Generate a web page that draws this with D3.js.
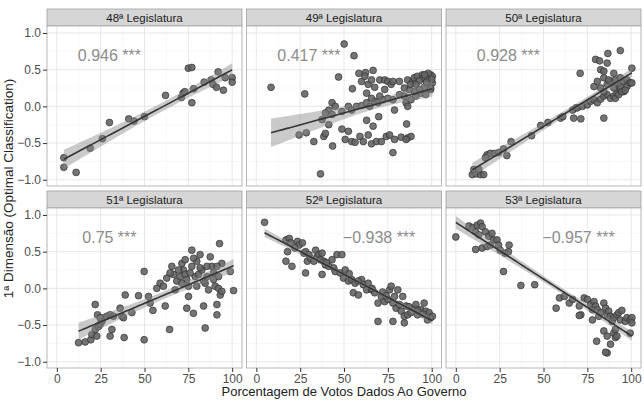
<!DOCTYPE html>
<html>
<head>
<meta charset="utf-8">
<script src="https://cdn.jsdelivr.net/npm/d3@7"></script>
<style>
  body { margin: 0; background: #fff; }
  svg { display: block; font-family: "Liberation Sans", Arial, sans-serif; }
</style>
</head>
<body>
<svg id="chart" width="644" height="400"></svg>
<script>
// facetas e coeficientes de correlação
const legislaturas = ["48ª Legislatura", "49ª Legislatura", "50ª Legislatura",
                      "51ª Legislatura", "52ª Legislatura", "53ª Legislatura"];
const correlacoes = [0.946, 0.417, 0.928, 0.75, -0.938, -0.957];

// [porcentagem de votos com o governo, 1ª dimensão]
const leg48 = [[4,-0.70],[4,-0.83],[11,-0.90],[19,-0.57],[26,-0.44],[30,-0.22],[41,-0.17],[44,-0.20],
  [50,-0.14],[62,0.15],[71,0.12],[72,0.18],[73,0.20],[75,0.52],[77,0.53],[78,0.24],[77,0.05],[84,0.33],
  [88,0.36],[89,0.30],[91,0.26],[92,0.47],[95,0.22],[96,0.39],[100,0.39],[100,0.33]];

const leg49 = [[8.4,0.26],[27.6,0.17],[50.1,0.85],[55.7,0.69],[46.9,0.40],[54.8,0.24],[58.5,0.45],[62.3,0.46],
  [66.6,0.49],[36.6,-0.92],[77.9,-0.63],[43.5,-0.54],[32.8,-0.48],[24.4,-0.39],[28.5,-0.36],[38.5,-0.41],
  [39.4,-0.37],[48.8,-0.31],[52.5,-0.34],[62.9,-0.19],[66.6,-0.27],[69.8,-0.14],[85.7,-0.24],[86.3,-0.43],
  [88.2,-0.41],[41.3,-0.25],
  [50.7,-0.45],[54.4,-0.48],[56.3,-0.49],[59.1,-0.41],[61.0,-0.48],[63.8,-0.39],[65.7,-0.51],[68.5,-0.48],
  [71.3,-0.48],[74.1,-0.41],[76.0,-0.39],[78.8,-0.45],[82.6,-0.42],[85.4,-0.45],
  [43.2,0.05],[45.0,0.00],[41.3,-0.05],[39.4,-0.09],[37.5,-0.18],[43.2,-0.11],[48.8,-0.07],[52.5,0.00],
  [54.4,-0.05],[57.2,0.00],[60.0,0.01],[62.9,0.05],[64.7,0.00],[67.5,0.07],[69.4,0.05],[72.2,0.09],
  [75.0,0.11],[77.9,0.09],[78.8,-0.05],[81.6,0.16],[84.4,0.14],[85.4,0.05],[86.3,0.00],[88.2,0.09],
  [91.0,0.14],[93.8,0.18],[96.6,0.16],[99.4,0.23],
  [60.0,0.34],[61.9,0.41],[63.8,0.30],[65.7,0.36],[67.5,0.26],[70.4,0.36],[73.2,0.36],[75.0,0.34],
  [76.9,0.30],[77.9,0.34],[81.6,0.34],[86.3,0.36],[89.1,0.34],[90.1,0.39],[91.9,0.41],[94.7,0.43],
  [97.6,0.39],[99.4,0.43],[100.4,0.41],[100.4,0.32],[99.4,0.25],[95.7,0.26],[92.9,0.23],[90.1,0.20],
  [87.2,0.23],[84.4,0.25],[70.4,0.14],[73.2,0.23],[62.9,0.18],[65.7,0.11],
  [95.0,0.38],[97.0,0.33],[98.0,0.45],[93.0,0.35],[88.0,0.30],[96.0,0.43],[100.0,0.37],[91.0,0.30]];

const leg50 = [[9.4,-0.93],[11.6,-0.92],[14.1,-0.93],[15.9,-0.93],[10.3,-0.86],[13.1,-0.86],
  [17.8,-0.66],[19.7,-0.64],[22.1,-0.64],[16.9,-0.70],[24.4,-0.63],[27.2,-0.58],[29.1,-0.67],[31.5,-0.48],
  [43.2,-0.40],[48.4,-0.26],[52.5,-0.22],[59.7,-0.16],[61.0,-0.14],[67.2,-0.16],[71.3,-0.17],[84.4,-0.16],
  [66.6,-0.05],[68.5,-0.02],
  [69.4,-0.02],[72.2,0.00],[75.0,0.02],[76.9,0.07],[78.8,0.09],[80.7,0.05],[82.6,0.10],[84.4,0.14],
  [86.3,0.16],[88.2,0.11],[90.1,0.14],[91.9,0.18],[93.8,0.23],[95.7,0.20],[97.6,0.27],[99.4,0.32],
  [70.9,0.45],[79.7,0.64],[82.0,0.62],[86.7,0.72],[93.8,0.76],[82.6,0.50],[84.4,0.48],[90.1,0.45],
  [86.3,0.59],[100.4,0.52],
  [78.8,0.27],[80.7,0.34],[82.6,0.25],[84.4,0.20],[86.3,0.30],[88.2,0.34],[90.1,0.25],[91.9,0.32],
  [93.8,0.27],[95.7,0.34],[97.6,0.36],[99.4,0.32],[100.4,0.32],
  [91.0,0.11],[92.9,0.16],[94.7,0.20],[96.6,0.22],
  [84.4,0.39],[87.2,0.36],[91.0,0.36],[93.8,0.39]];

const leg51 = [[12.4,-0.74],[16.2,-0.73],[19.4,-0.70],[20.0,-0.63],[21.9,-0.56],[22.8,-0.65],[23.8,-0.52],
  [24.7,-0.49],[25.7,-0.45],[26.6,-0.40],[21.9,-0.22],[23.2,-0.36],[24.7,-0.40],[28.5,-0.38],[30.4,-0.36],
  [31.4,-0.56],[30.4,-0.65],[32.3,-0.38],[36.1,-0.27],[37.1,-0.38],[38.0,-0.40],[39.0,-0.09],[38.4,-0.67],
  [42.8,-0.33],[46.6,-0.10],[49.8,0.23],[49.8,-0.70],[52.3,-0.11],[53.2,-0.20],[54.8,-0.30],[58.9,0.07],
  [61.8,-0.24],[62.7,0.14],[64.3,-0.56],[65.6,0.30],[66.5,0.19],[67.5,-0.02],[68.4,0.10],[70.3,0.16],
  [71.3,0.34],[72.2,0.25],[73.2,0.19],[74.1,0.12],[75.1,0.03],[74.1,-0.27],[75.1,-0.11],[77.0,0.30],
  [77.0,0.52],[77.9,-0.34],[78.9,0.16],[79.8,0.37],[80.8,0.19],[81.7,0.46],[82.7,0.25],[83.7,0.10],
  [83.7,-0.24],[84.6,-0.54],[85.6,0.16],[86.5,-0.02],[87.5,0.43],[88.4,0.30],[89.4,0.21],[90.3,0.03],
  [91.3,-0.22],[91.3,-0.36],[92.2,0.00],[92.2,0.16],[92.8,0.61],[94.1,0.34],[93.2,-0.09],[94.1,-0.04],
  [98.9,0.23],[100.8,-0.03],
  [64.6,0.21],[69.4,0.25],[71.3,0.07],[76.0,0.21],[79.8,0.03],[81.7,0.28],[84.6,0.07],[85.6,0.30],
  [89.4,0.12],[91.3,0.30],[57.0,0.00],[60.8,0.03],[73.2,0.39],[78.0,0.41]];

const leg52 = [[4.7,0.90],[16.9,0.66],[18.8,0.68],[19.7,0.62],[17.8,0.50],[16.9,0.37],[20.3,0.30],[23.5,0.64],
  [24.4,0.59],[26.3,0.62],[27.2,0.48],[28.1,0.50],[30.0,0.46],[29.1,0.37],[28.1,0.21],[31.0,0.41],
  [32.8,0.37],[33.8,0.52],[34.7,0.43],[35.6,0.46],[36.6,0.39],[37.5,0.48],[37.5,0.19],[38.5,0.37],
  [39.4,0.32],[41.3,0.30],[43.2,0.39],[44.1,0.28],[45.0,0.23],[46.0,0.46],[47.8,0.21],[48.8,0.46],
  [49.7,0.14],[50.7,0.25],[52.5,0.10],[54.4,0.12],[55.3,-0.06],[56.3,0.07],[58.2,-0.09],[60.0,0.12],
  [61.0,0.05],[62.9,-0.02],[63.8,0.07],[65.7,-0.02],[67.5,-0.06],[69.4,-0.45],[69.4,-0.20],[71.3,-0.11],
  [73.2,-0.18],[75.0,-0.15],[76.0,-0.02],[76.9,0.03],[77.9,-0.20],[78.8,-0.11],[77.9,-0.45],[79.7,-0.27],
  [80.7,-0.02],[81.6,-0.22],[82.6,-0.31],[83.5,-0.11],[84.4,-0.47],[84.4,-0.38],[85.4,-0.24],[86.3,-0.36],
  [88.2,-0.33],[90.1,-0.27],[91.0,-0.22],[91.9,-0.36],[93.8,-0.29],[95.7,-0.20],[96.6,-0.31],[97.6,-0.43],
  [98.5,-0.33],[99.4,-0.40],[100.4,-0.38],
  [22.0,0.55],[40.0,0.35],[53.0,0.20],[58.0,0.10],[66.0,0.00],[72.0,-0.05],[74.0,-0.10],[87.0,-0.25],
  [92.0,-0.30],[95.0,-0.35]];

const leg53 = [[0,0.70],[7.5,0.85],[9.8,0.83],[12.2,0.86],[14.1,0.89],[15.0,0.84],[11.3,0.77],[13.1,0.73],
  [16.9,0.77],[18.8,0.71],[20.6,0.75],[21.6,0.66],[11.3,0.53],[15.0,0.55],[17.8,0.57],[19.7,0.59],
  [23.5,0.66],[24.4,0.59],[25.3,0.52],[28.1,0.48],[30.0,0.50],[30.4,0.59],[27.2,0.23],[37.1,0.04],
  [45.0,0.05],[57.2,-0.27],[59.1,-0.13],[61.9,-0.11],[64.7,-0.20],[66.6,-0.15],[70.4,-0.24],[71.3,-0.36],
  [70.4,-0.37],[73.2,-0.13],[75.0,-0.15],[76.9,-0.22],[77.9,-0.29],[78.8,-0.18],[79.7,-0.24],[80.7,-0.29],
  [77.9,-0.43],[81.6,-0.38],[82.6,-0.33],[84.4,-0.20],[85.4,-0.27],[86.3,-0.36],[87.2,-0.31],[88.2,-0.38],
  [89.1,-0.45],[90.1,-0.40],[91.9,-0.36],[92.9,-0.33],[93.8,-0.43],[94.7,-0.30],[96.6,-0.45],[97.6,-0.40],
  [99.4,-0.43],[100.4,-0.40],[100.4,-0.47],[99.4,-0.61],[84.4,-0.58],[86.3,-0.65],[88.2,-0.76],[90.1,-0.61],
  [91.0,-0.67],[91.9,-0.65],[91.0,-0.56],[80.3,-0.72],[86.3,-0.88],[85.4,-0.87]];

const dados = [leg48, leg49, leg50, leg51, leg52, leg53];
const xTicks = [0, 25, 50, 75, 100];
const yTicks = [-1, -0.5, 0, 0.5, 1];

const svg = d3.select("#chart");

const panelW = 195, panelH = 160, stripH = 17;
const colX = [47, 246.5, 446];
const rowY = [26, 208];

const x = d3.scaleLinear().domain([-5.6, 105.6]).range([0, panelW]);
const y = d3.scaleLinear().domain([-1.085, 1.095]).range([panelH, 0]);

const fmtY = v => d3.format(".1f")(v).replace("-", "\u2212");

// ajuste linear com intervalo de confiança de 95%
function ajuste(pts) {
  const n = pts.length;
  const mx = d3.mean(pts, d => d[0]), my = d3.mean(pts, d => d[1]);
  let sxx = 0, sxy = 0;
  pts.forEach(d => { sxx += (d[0] - mx) ** 2; sxy += (d[0] - mx) * (d[1] - my); });
  const b = sxy / sxx, a = my - b * mx;
  let sse = 0;
  pts.forEach(d => { sse += (d[1] - a - b * d[0]) ** 2; });
  const s = Math.sqrt(sse / (n - 2));
  const t = 1.96 + 2.4 / (n - 2);
  const [x0, x1] = d3.extent(pts, d => d[0]);
  return d3.range(0, 61).map(i => {
    const xv = x0 + (x1 - x0) * i / 60;
    const fit = a + b * xv;
    const se = s * Math.sqrt(1 / n + (xv - mx) ** 2 / sxx);
    return { x: xv, fit: fit, lo: fit - t * se, hi: fit + t * se };
  });
}

dados.forEach((pts, i) => {
  const col = i % 3, row = Math.floor(i / 3);
  const g = svg.append("g").attr("transform", `translate(${colX[col]},${rowY[row]})`);

  // faixa do título
  g.append("rect")
    .attr("x", 0).attr("y", -stripH).attr("width", panelW).attr("height", stripH)
    .attr("fill", "#d6d6d6").attr("stroke", "#a0a0a0").attr("stroke-width", 0.8);
  g.append("text")
    .attr("x", panelW / 2).attr("y", -stripH / 2 + 4)
    .attr("text-anchor", "middle")
    .attr("font-size", 11.5).attr("fill", "#1a1a1a")
    .text(legislaturas[i]);

  // fundo e grade
  g.append("rect").attr("width", panelW).attr("height", panelH).attr("fill", "#fff");
  const minorX = [12.5, 37.5, 62.5, 87.5], minorY = [-0.75, -0.25, 0.25, 0.75];
  g.selectAll(".mx").data(minorX).join("line")
    .attr("x1", d => x(d)).attr("x2", d => x(d)).attr("y1", 0).attr("y2", panelH)
    .attr("stroke", "#f3f3f3").attr("stroke-width", 0.6);
  g.selectAll(".my").data(minorY).join("line")
    .attr("y1", d => y(d)).attr("y2", d => y(d)).attr("x1", 0).attr("x2", panelW)
    .attr("stroke", "#f3f3f3").attr("stroke-width", 0.6);
  g.selectAll(".gx").data(xTicks).join("line")
    .attr("x1", d => x(d)).attr("x2", d => x(d)).attr("y1", 0).attr("y2", panelH)
    .attr("stroke", "#e4e4e4").attr("stroke-width", 0.9);
  g.selectAll(".gy").data(yTicks).join("line")
    .attr("y1", d => y(d)).attr("y2", d => y(d)).attr("x1", 0).attr("x2", panelW)
    .attr("stroke", "#e4e4e4").attr("stroke-width", 0.9);

  // pontos
  g.append("g").selectAll("circle").data(pts).join("circle")
    .attr("cx", d => x(d[0])).attr("cy", d => y(d[1])).attr("r", 3.4)
    .attr("fill", "#656565").attr("fill-opacity", 0.9)
    .attr("stroke", "#303030").attr("stroke-width", 0.7);

  // reta de regressão
  const fit = ajuste(pts);
  g.append("path").datum(fit)
    .attr("d", d3.area().x(d => x(d.x)).y0(d => y(d.lo)).y1(d => y(d.hi)))
    .attr("fill", "#8a8a8a").attr("fill-opacity", 0.45);
  g.append("path").datum(fit)
    .attr("d", d3.line().x(d => x(d.x)).y(d => y(d.fit)))
    .attr("fill", "none").attr("stroke", "#353535").attr("stroke-width", 1.6);

  // correlação
  const r = correlacoes[i];
  g.append("text")
    .attr("x", x(r > 0 ? 30 : 70)).attr("y", y(0.7) + 5.7)
    .attr("text-anchor", "middle").attr("font-size", 16).attr("fill", "#8c8c8c")
    .text(String(r).replace("-", "\u2212") + " ***");

  // borda
  g.append("rect").attr("width", panelW).attr("height", panelH)
    .attr("fill", "none").attr("stroke", "#a6a6a6").attr("stroke-width", 0.8);

  // eixos
  if (col === 0) {
    const ay = g.append("g").call(d3.axisLeft(y).tickValues(yTicks).tickSize(4).tickPadding(2).tickFormat(fmtY));
    ay.select(".domain").remove();
    ay.selectAll("line").attr("stroke", "#333");
    ay.selectAll("text").attr("fill", "#4d4d4d").attr("font-size", 12)
      .attr("font-family", "Liberation Sans, Arial, sans-serif");
  }
  if (row === 1) {
    const ax = g.append("g").attr("transform", `translate(0,${panelH})`)
      .call(d3.axisBottom(x).tickValues(xTicks).tickSize(4).tickPadding(2));
    ax.select(".domain").remove();
    ax.selectAll("line").attr("stroke", "#333");
    ax.selectAll("text").attr("fill", "#4d4d4d").attr("font-size", 12)
      .attr("font-family", "Liberation Sans, Arial, sans-serif");
  }
});

// títulos dos eixos
svg.append("text")
  .attr("x", (colX[0] + colX[2] + panelW) / 2).attr("y", 396)
  .attr("text-anchor", "middle").attr("font-size", 13).attr("fill", "#222")
  .text("Porcentagem de Votos Dados Ao Governo");
svg.append("text")
  .attr("transform", `translate(13,${(rowY[0] - stripH + rowY[1] + panelH) / 2}) rotate(-90)`)
  .attr("text-anchor", "middle").attr("font-size", 13.5).attr("fill", "#222")
  .text("1ª Dimensão (Optimal Classification)");
</script>
</body>
</html>
